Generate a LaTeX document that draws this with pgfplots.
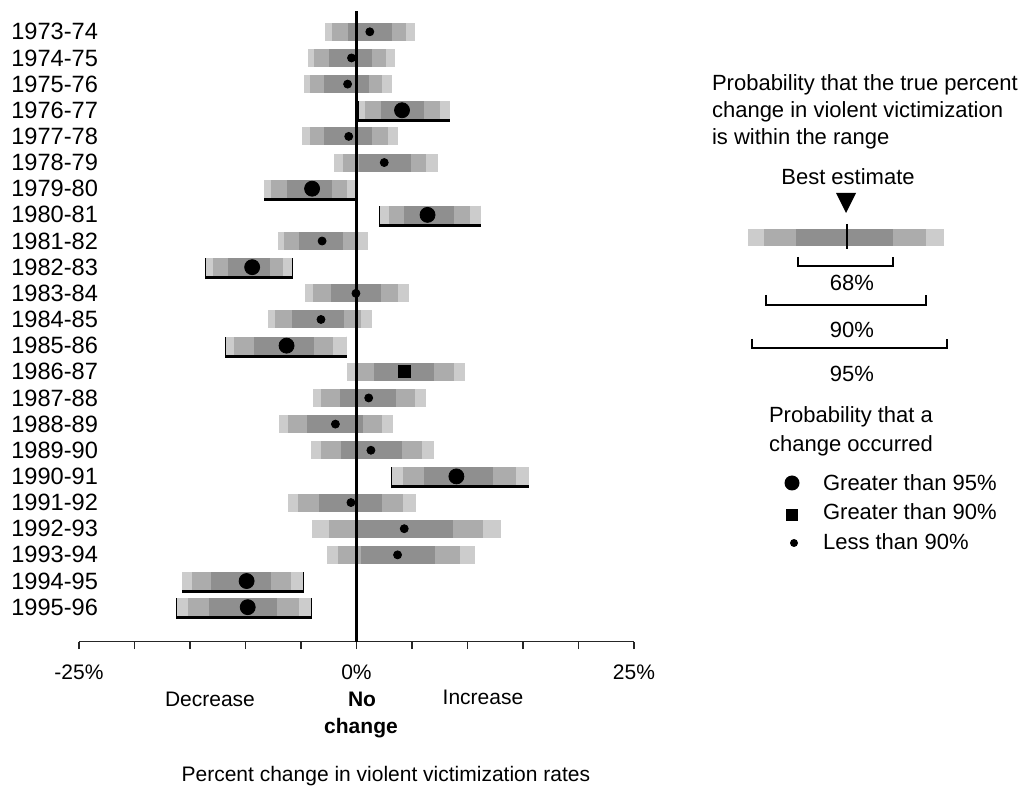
\documentclass[border=0pt]{standalone}
\usepackage{fontspec}
\setmainfont{Liberation Sans}
\usepackage{pgfplots}
\pgfplotsset{compat=1.18}
\usepackage{pgfplotstable}

\definecolor{lite}{RGB}{204,204,204}
\definecolor{mid}{RGB}{172,172,172}
\definecolor{dark}{RGB}{143,143,143}
\newcommand{\lgd}{\fontsize{11}{13}\selectfont}
\newcommand{\axf}{\fontsize{10.5}{12}\selectfont}

% y: 22 = 1973-74 ... 0 = 1995-96; cls: 0 = <90%, 1 = >90%, 2 = >95%
\pgfplotstableread{
y est l95 h95 l90 h90 l68 h68 cls
22 1.2 -2.8 5.3 -2.2 4.5 -0.8 3.2 0
21 -0.45 -4.4 3.5 -3.8 2.7 -2.5 1.4 0
20 -0.8 -4.7 3.2 -4.2 2.3 -2.9 1.1 0
19 4.1 0.2 8.4 0.8 7.5 2.2 6.1 2
18 -0.7 -4.9 3.7 -4.2 2.8 -2.9 1.4 0
17 2.5 -2.0 7.3 -1.2 6.3 0.2 4.9 0
16 -4.0 -8.3 -0.1 -7.7 -0.9 -6.3 -2.2 2
15 6.4 2.1 11.2 2.9 10.2 4.3 8.8 2
14 -3.1 -7.1 1.0 -6.5 0.05 -5.2 -1.2 0
13 -9.4 -13.6 -5.8 -12.9 -6.6 -11.6 -7.8 2
12 -0.05 -4.6 4.7 -3.9 3.7 -2.3 2.2 0
11 -3.2 -8.0 1.4 -7.3 0.4 -5.8 -1.1 0
10 -6.3 -11.8 -0.9 -11.0 -2.1 -9.2 -3.8 2
9 4.3 -0.9 9.8 0.0 8.8 1.6 7.0 1
8 1.1 -3.9 6.3 -3.2 5.3 -1.5 3.6 0
7 -1.9 -7.0 3.3 -6.2 2.3 -4.5 0.6 0
6 1.3 -4.1 7.0 -3.2 5.9 -1.4 4.1 0
5 9.0 3.2 15.5 4.2 14.4 6.1 12.3 2
4 -0.5 -6.2 5.4 -5.3 4.2 -3.4 2.3 0
3 4.3 -4.0 13.0 -2.5 11.4 0.1 8.7 0
2 3.7 -2.7 10.7 -1.7 9.3 0.45 7.1 0
1 -9.9 -15.7 -4.8 -14.8 -5.9 -13.1 -7.7 2
0 -9.8 -16.2 -4.1 -15.2 -5.2 -13.3 -7.2 2
}\data

% error-bar-only plots: hide the point marker itself
\pgfplotsset{
  bare/.style={only marks, mark=*, mark size=0pt,
    mark options={draw=none, fill=none}, forget plot},
  band/.style={bare,
    error bars/.cd, x dir=both, x explicit, error mark=none,
    error bar style={line width=9pt, color=#1}}}

\begin{document}
\begin{tikzpicture}
\useasboundingbox (-39.5pt,-72.65pt) rectangle (474.5pt,320.85pt);
\begin{axis}[
  at={(0,0)}, anchor=south west,
  scale only axis, width=277.5pt, height=315.35pt,
  xmin=-25, xmax=25, ymin=-1.32, ymax=22.795,
  axis x line*=bottom, axis y line*=left,
  y axis line style={draw=none},
  x axis line style={line width=0.6pt, black!85},
  xtick={-25,-20,...,25},
  xticklabels={-25\%,,,,,0\%,,,,,25\%},
  tick align=outside, major tick length=3.75pt,
  xtick style={line width=0.6pt, black!85},
  xticklabel style={font=\axf, yshift=-4.5pt},
  ytick={0,...,22}, ytick style={draw=none},
  yticklabels={1995-96,1994-95,1993-94,1992-93,1991-92,1990-91,1989-90,1988-89,1987-88,1986-87,1985-86,1984-85,1983-84,1982-83,1981-82,1980-81,1979-80,1978-79,1977-78,1976-77,1975-76,1974-75,1973-74},
  yticklabel style={anchor=west, xshift=-33.6pt, font=\fontsize{11.8}{13}\selectfont},
  /pgf/number format/assume math mode=true,
  xlabel={Percent change in violent victimization rates},
  xlabel style={font=\axf, at={(rel axis cs:0.553,0)}, anchor=center, yshift=-67pt},
  clip=false,
]
% bracket ends for significant changes
\addplot[bare,
  error bars/.cd, x dir=both, x explicit, error mark=|,
  error bar style={line width=0.4pt, black},
  error mark options={black, line width=0.6pt, mark size=5.25pt}]
  table[x=est, y expr=\thisrow{y}-0.057,
    x error plus expr=\thisrow{h95}-\thisrow{est},
    x error minus expr=\thisrow{est}-\thisrow{l95},
    restrict expr to domain={\thisrow{cls}}{2:2}] {\data};
% probability bands
\addplot[band=lite] table[x=est, y=y,
  x error plus expr=\thisrow{h95}-\thisrow{est},
  x error minus expr=\thisrow{est}-\thisrow{l95}] {\data};
\addplot[band=mid] table[x=est, y=y,
  x error plus expr=\thisrow{h90}-\thisrow{est},
  x error minus expr=\thisrow{est}-\thisrow{l90}] {\data};
\addplot[band=dark] table[x=est, y=y,
  x error plus expr=\thisrow{h68}-\thisrow{est},
  x error minus expr=\thisrow{est}-\thisrow{l68}] {\data};
% underline
\addplot[bare,
  error bars/.cd, x dir=both, x explicit, error mark=none,
  error bar style={line width=1.5pt, black}]
  table[x=est, y expr=\thisrow{y}-0.40,
    x error plus expr=\thisrow{h95}-\thisrow{est},
    x error minus expr=\thisrow{est}-\thisrow{l95},
    restrict expr to domain={\thisrow{cls}}{2:2}] {\data};
% no change line
\addplot[black, line width=1.1pt, forget plot] coordinates {(0,-1.32) (0,22.795)};
% best estimates
\addplot[scatter, only marks, scatter src=explicit symbolic,
  scatter/classes={
    0={mark=*, mark size=2pt, black},
    1={mark=square*, mark size=3pt, black},
    2={mark=*, mark size=3.75pt, black}}]
  table[x=est, y=y, meta=cls] {\data};
\end{axis}

% key and notes, in pixel units of the reference
\begin{scope}[shift={(-39.5pt,320.85pt)}, x=0.5pt, y=-0.5pt]
  \node[font=\axf] at (210,699) {Decrease};
  \node[font=\axf\bfseries] at (362,699) {No};
  \node[font=\axf\bfseries] at (361,728) {change};
  \node[font=\axf] at (483,697) {Increase};

  \node[anchor=west, font=\lgd] at (705,85) {Probability that the true percent};
  \node[anchor=west, font=\lgd] at (705,112) {change in violent victimization};
  \node[anchor=west, font=\lgd] at (705,139) {is within the range};
  \node[font=\lgd] at (848,177) {Best estimate};
  \fill (836,193) -- (856,193) -- (846,213) -- cycle;
  \fill[lite] (748,229) rectangle (944,246);
  \fill[mid] (764,229) rectangle (926,246);
  \fill[dark] (796,229) rectangle (893,246);
  \draw[line width=1pt] (847,224) -- (847,249);
  \draw[line width=1pt] (798,257) -- (798,266) -- (893,266) -- (893,257);
  \node[font=\lgd] at (852,283) {68\%};
  \draw[line width=1pt] (766,295) -- (766,305) -- (926,305) -- (926,295);
  \node[font=\lgd] at (852,330) {90\%};
  \draw[line width=1pt] (752,339) -- (752,348) -- (947,348) -- (947,339);
  \node[font=\lgd] at (852,374) {95\%};

  \node[anchor=west, font=\lgd] at (762,417) {Probability that a};
  \node[anchor=west, font=\lgd] at (762,446) {change occurred};
  \fill (792,483) circle[radius=3.75pt];
  \fill (786,509) rectangle (798,521);
  \fill (794,543) circle[radius=2pt];
  \node[anchor=west, font=\lgd] at (816,483) {Greater than 95\%};
  \node[anchor=west, font=\lgd] at (816,512) {Greater than 90\%};
  \node[anchor=west, font=\lgd] at (816,542) {Less than 90\%};
\end{scope}
\end{tikzpicture}
\end{document}
